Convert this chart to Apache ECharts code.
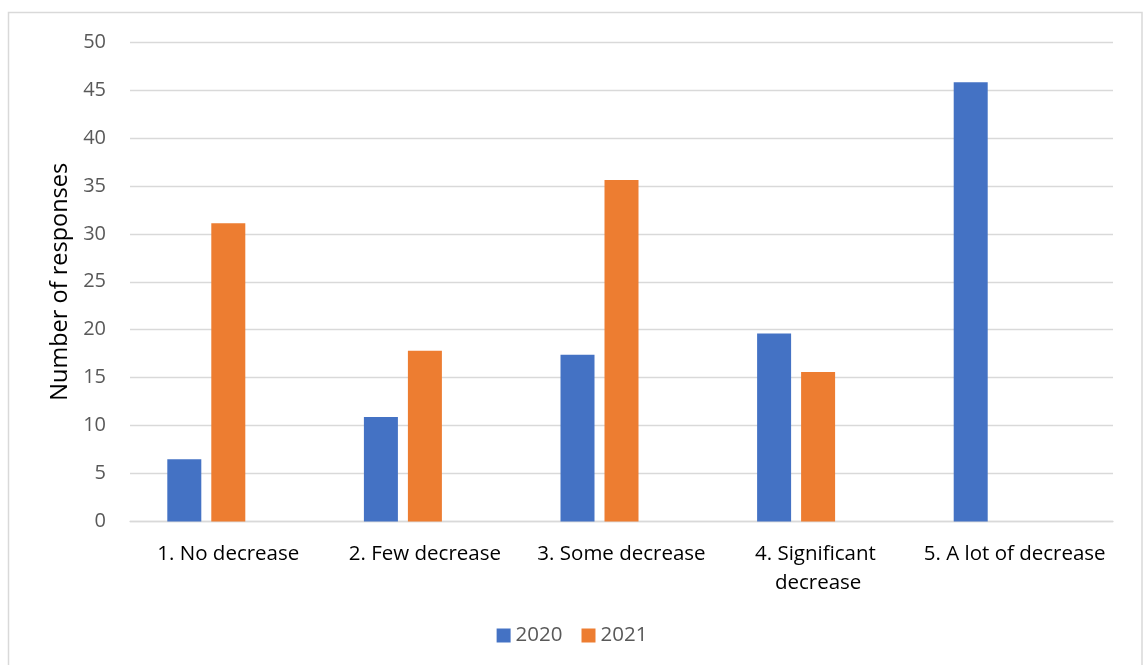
<!DOCTYPE html>
<html>
<head>
<meta charset="utf-8">
<title>Number of responses</title>
<script src="https://cdn.jsdelivr.net/npm/echarts@6/dist/echarts.min.js"></script>
<style>
  html, body { margin: 0; padding: 0; background: #ffffff; }
  #chart { width: 1144px; height: 665px; }
</style>
</head>
<body>
<div id="chart"></div>
<script>
// Response categories along the x axis
const categories = [
  '1. No decrease',
  '2. Few decrease',
  '3. Some decrease',
  '4. Significant decrease',
  '5. A lot of decrease'
];

// Number of responses per year
const values2020 = [6.5, 10.9, 17.4, 19.6, 45.8];
const values2021 = [31.1, 17.8, 35.6, 15.6, 0];
// Third slot in each cluster, kept empty
const valuesSpare = [];

const yTicks = { min: 0, max: 50, interval: 5 };

const FONT = '"Open Sans", "Noto Sans", sans-serif';
const GRID_COLOR = '#D9D9D9';

const chart = echarts.init(document.getElementById('chart'), null, { renderer: 'canvas' });

const barCommon = {
  type: 'bar',
  barWidth: 34,
  barGap: '29.4%',
  barCategoryGap: '0%'
};

chart.setOption({
  animation: false,
  backgroundColor: '#ffffff',
  textStyle: { fontFamily: FONT },
  grid: { left: 130, right: 31, top: 42, bottom: 143.5, containLabel: false },
  legend: {
    data: ['2020', '2021'],
    left: 'center',
    top: 620,
    icon: 'rect',
    itemWidth: 14,
    itemHeight: 14,
    itemGap: 19,
    itemTextGap: 6,
    textStyle: { fontFamily: FONT, fontSize: 20.5, color: '#595959' }
  },
  xAxis: {
    type: 'category',
    data: categories,
    axisLine: { show: true, lineStyle: { color: GRID_COLOR, width: 1.3 } },
    axisTick: { show: false },
    axisLabel: {
      interval: 0,
      margin: 18,
      fontFamily: FONT,
      fontSize: 20.5,
      color: '#000000',
      lineHeight: 29,
      width: 194,
      overflow: 'break'
    }
  },
  yAxis: {
    type: 'value',
    min: yTicks.min,
    max: yTicks.max,
    interval: yTicks.interval,
    name: 'Number of responses',
    nameLocation: 'middle',
    nameRotate: 90,
    nameGap: 58,
    nameTextStyle: { fontFamily: FONT, fontSize: 23.5, color: '#000000' },
    axisLine: { show: false },
    axisTick: { show: false },
    axisLabel: { margin: 24, fontFamily: FONT, fontSize: 20, color: '#595959' },
    splitLine: { show: true, lineStyle: { color: GRID_COLOR, width: 1.3 } }
  },
  series: [
    Object.assign({}, barCommon, {
      name: '2020',
      data: values2020,
      itemStyle: { color: '#4472C4' }
    }),
    Object.assign({}, barCommon, {
      name: '2021',
      data: values2021,
      itemStyle: { color: '#ED7D31' }
    }),
    Object.assign({}, barCommon, {
      name: 'Spare',
      data: valuesSpare,
      itemStyle: { color: '#A5A5A5' }
    })
  ],
  graphic: [
    {
      type: 'rect',
      silent: true,
      shape: { x: 8.5, y: 12.5, width: 1133.5, height: 700 },
      style: { fill: 'none', stroke: '#D9D9D9', lineWidth: 1.5 }
    }
  ]
});
</script>
</body>
</html>
